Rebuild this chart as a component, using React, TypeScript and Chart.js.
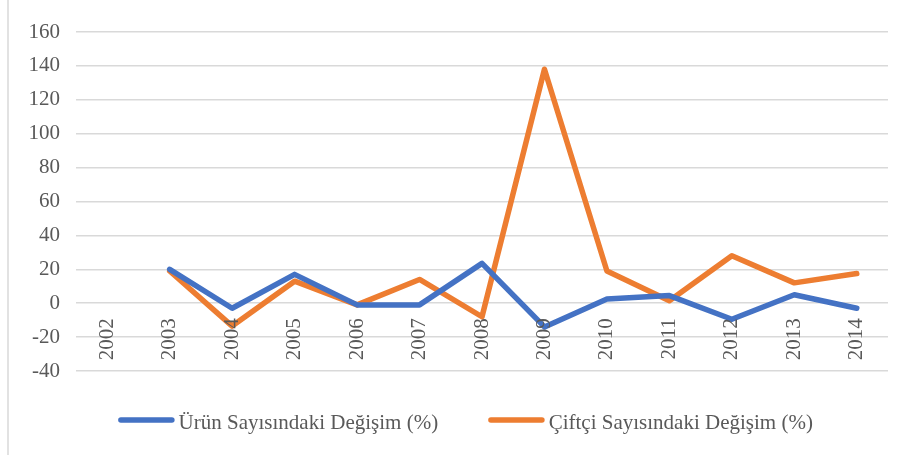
import React, { useEffect, useRef } from "react";
import { Chart, registerables } from "chart.js";

Chart.register(...registerables);

const categories = ["2002", "2003", "2004", "2005", "2006", "2007", "2008", "2009", "2010", "2011", "2012", "2013", "2014"];
const urunValues: (number | null)[] = [null, 20, -3, 17, -1, -1, 23.5, -14, 2.5, 4.5, -9.5, 5, -3];
const ciftciValues: (number | null)[] = [null, 19, -13.5, 13, -1, 14, -8, 138, 19, 1.5, 28, 12, 17.5];
const seriesNames = ["Ürün Sayısındaki Değişim (%)", "Çiftçi Sayısındaki Değişim (%)"];
const seriesColors = ["#4472C4", "#ED7D31"];

const FONT_FAMILY = "'Liberation Serif', 'Times New Roman', serif";
const FONT_SIZE = 21;
const TEXT_COLOR = "#595959";
const GRID_COLOR = "#d9d9d9";

const framePlugin = {
  id: "frame",
  beforeDraw(chart: any) {
    const ctx = chart.ctx;
    ctx.save();
    ctx.strokeStyle = GRID_COLOR;
    ctx.lineWidth = 1.5;
    ctx.beginPath();
    ctx.moveTo(8, 0);
    ctx.lineTo(8, chart.height);
    ctx.stroke();
    ctx.restore();
  },
};

const customLegend = {
  id: "customLegend",
  afterDraw(chart: any) {
    const ctx = chart.ctx;
    ctx.save();
    ctx.font = `${FONT_SIZE}px ${FONT_FAMILY}`;
    const sampleLen = 51;
    const cap = 2.75;
    const gapText = 4;
    const gapItems = 50;
    const items = chart.data.datasets.map((ds: any) => ({
      label: ds.label,
      color: ds.borderColor,
      w: sampleLen + 2 * cap + gapText + ctx.measureText(ds.label).width,
    }));
    const total = items.reduce((s: number, it: any) => s + it.w, 0) + gapItems * (items.length - 1);
    let x = 465.5 - total / 2;
    const yLine = 420;
    const yText = 423;
    items.forEach((it: any) => {
      ctx.strokeStyle = it.color;
      ctx.lineWidth = 5.5;
      ctx.lineCap = "round";
      ctx.beginPath();
      ctx.moveTo(x + cap, yLine);
      ctx.lineTo(x + cap + sampleLen, yLine);
      ctx.stroke();
      ctx.fillStyle = TEXT_COLOR;
      ctx.textAlign = "left";
      ctx.textBaseline = "middle";
      ctx.fillText(it.label, x + sampleLen + 2 * cap + gapText, yText);
      x += it.w + gapItems;
    });
    ctx.restore();
  },
};

export default function App() {
  const canvasRef = useRef<HTMLCanvasElement | null>(null);

  useEffect(() => {
    document.body.style.margin = "0";
    document.body.style.overflow = "hidden";
    const canvas = canvasRef.current;
    if (!canvas) return;
    const chart = new Chart(canvas, {
      type: "line",
      data: {
        labels: categories,
        datasets: [
          {
            label: seriesNames[0],
            data: urunValues,
            borderColor: seriesColors[0],
            backgroundColor: seriesColors[0],
            borderWidth: 5.5,
            pointRadius: 0,
            tension: 0,
            borderCapStyle: "round",
            borderJoinStyle: "round",
          },
          {
            label: seriesNames[1],
            data: ciftciValues,
            borderColor: seriesColors[1],
            backgroundColor: seriesColors[1],
            borderWidth: 5.5,
            pointRadius: 0,
            tension: 0,
            borderCapStyle: "round",
            borderJoinStyle: "round",
          },
        ],
      },
      options: {
        responsive: false,
        animation: false,
        devicePixelRatio: 1,
        layout: { padding: { left: 0, right: 18, top: 32, bottom: 84 } },
        plugins: {
          legend: { display: false },
          tooltip: { enabled: false },
        },
        scales: {
          x: {
            type: "category",
            position: { y: 0 } as any,
            offset: true,
            grid: { display: false },
            border: { display: false },
            ticks: {
              z: 1,
              autoSkip: false,
              minRotation: 90,
              maxRotation: 90,
              padding: 7,
              color: TEXT_COLOR,
              font: { family: FONT_FAMILY, size: FONT_SIZE },
            } as any,
          },
          y: {
            min: -40,
            max: 160,
            afterFit(scale: any) {
              scale.width = 76;
            },
            grid: { color: GRID_COLOR, lineWidth: 1.5, drawTicks: false },
            border: { display: false },
            ticks: {
              stepSize: 20,
              padding: 16,
              color: TEXT_COLOR,
              font: { family: FONT_FAMILY, size: FONT_SIZE },
            },
          },
        },
      },
      plugins: [framePlugin, customLegend],
    });
    return () => chart.destroy();
  }, []);

  return (
    <div style={{ width: 906, height: 455, background: "#fff" }}>
      <canvas ref={canvasRef} width={906} height={455} />
    </div>
  );
}
